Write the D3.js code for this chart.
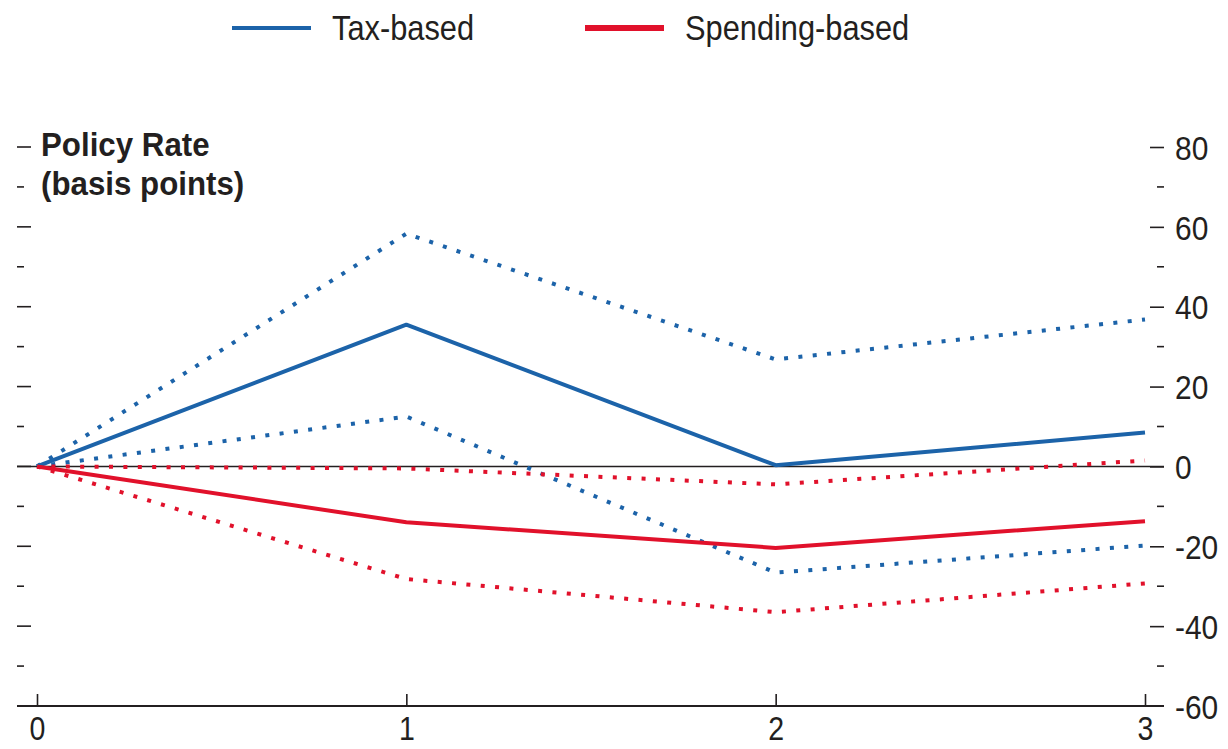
<!DOCTYPE html>
<html>
<head>
<meta charset="utf-8">
<script src="https://cdn.jsdelivr.net/npm/d3@7"></script>
<style>
  html, body { margin: 0; padding: 0; background: #fff; }
  svg { display: block; }
  text { font-family: "Liberation Sans", Arial, sans-serif; fill: #231f20; }
</style>
</head>
<body>
<svg id="chart" width="1228" height="749"></svg>
<script>
// Horizon (years after the consolidation)
const periods = [0, 1, 2, 3];
const xTickLabels = ["0", "1", "2", "3"];

// Policy-rate response, basis points
const taxMean   = [0, 35.5, 0.3, 8.5];
const taxUpper  = [0, 58.3, 26.8, 36.8];
const taxLower  = [0, 12.5, -26.6, -19.8];
const spendMean  = [0, -14.0, -20.4, -13.7];
const spendUpper = [0, -0.5, -4.5, 1.5];
const spendLower = [0, -28.2, -36.5, -29.3];

const yTickValues = [80, 60, 40, 20, 0, -20, -40, -60];
const yMinorValues = [70, 50, 30, 10, -10, -30, -50];

const blue = "#1c63a9";
const red = "#e1112b";
const ink = "#231f20";

// horizontal squeeze that gives the narrow lettering
const SQ = 0.86;

const svg = d3.select("#chart");

const x = d3.scaleLinear().domain([0, 3]).range([37, 1145]);
const y = d3.scaleLinear().domain([-60, 80]).range([706, 147]);

const axisLeftX = 17, axisRightX = 1164;

// Zero line and bottom axis line
svg.append("line")
  .attr("x1", axisLeftX).attr("x2", axisRightX)
  .attr("y1", y(0)).attr("y2", y(0))
  .attr("stroke", ink).attr("stroke-width", 1.6);
svg.append("line")
  .attr("x1", axisLeftX).attr("x2", axisRightX)
  .attr("y1", y(-60)).attr("y2", y(-60))
  .attr("stroke", ink).attr("stroke-width", 1.8);

// Left ticks (no labels)
const leftG = svg.append("g");
leftG.selectAll("line.maj").data(yTickValues.filter(v => v > -60)).join("line")
  .attr("class", "maj")
  .attr("x1", 17).attr("x2", 31)
  .attr("y1", d => y(d)).attr("y2", d => y(d))
  .attr("stroke", ink).attr("stroke-width", 1.6);
leftG.selectAll("line.min").data(yMinorValues).join("line")
  .attr("class", "min")
  .attr("x1", 17).attr("x2", 24)
  .attr("y1", d => y(d)).attr("y2", d => y(d))
  .attr("stroke", ink).attr("stroke-width", 1.6);

// Right axis with labels
const rightAxis = d3.axisRight(y)
  .tickValues(yTickValues)
  .tickSize(0)
  .tickPadding(0)
  .tickFormat(d => String(d));
const rightG = svg.append("g").attr("transform", `translate(${axisRightX},0)`).call(rightAxis);
rightG.select(".domain").remove();
rightG.selectAll(".tick text")
  .attr("x", 0)
  .attr("dy", "0.36em")
  .attr("transform", `translate(11,0) scale(${SQ + 0.02},1)`)
  .style("font-size", "34px")
  .attr("fill", ink);
rightG.selectAll(".tick").filter(d => d > -60).append("line")
  .attr("x1", -14).attr("x2", 0).attr("stroke", ink).attr("stroke-width", 1.6);
rightG.selectAll("line.min").data(yMinorValues).join("line")
  .attr("class", "min")
  .attr("x1", -7).attr("x2", 0)
  .attr("y1", d => y(d)).attr("y2", d => y(d))
  .attr("stroke", ink).attr("stroke-width", 1.6);

// Bottom axis: upward ticks and labels
const bottomAxis = d3.axisBottom(x)
  .tickValues(periods)
  .tickSize(0)
  .tickFormat((d, i) => xTickLabels[i]);
const bottomG = svg.append("g").attr("transform", `translate(0,${y(-60)})`).call(bottomAxis);
bottomG.select(".domain").remove();
bottomG.selectAll(".tick line").remove();
bottomG.selectAll(".tick").append("line")
  .attr("y1", -12).attr("y2", 0).attr("stroke", ink).attr("stroke-width", 1.6);
bottomG.selectAll(".tick text")
  .attr("y", 0)
  .attr("dy", 0)
  .attr("transform", `translate(0,34) scale(${SQ - 0.02},1)`)
  .style("font-size", "34px")
  .attr("fill", ink);

// Series lines
const line = d3.line().x((d, i) => x(periods[i])).y(d => y(d));
const series = [
  { values: taxUpper, color: blue, dotted: true },
  { values: taxLower, color: blue, dotted: true },
  { values: spendUpper, color: red, dotted: true },
  { values: spendLower, color: red, dotted: true },
  { values: taxMean, color: blue, dotted: false },
  { values: spendMean, color: red, dotted: false }
];
svg.append("g").selectAll("path").data(series).join("path")
  .attr("d", d => line(d.values))
  .attr("fill", "none")
  .attr("stroke", d => d.color)
  .attr("stroke-width", 4)
  .attr("stroke-linejoin", "round")
  .attr("stroke-dasharray", d => d.dotted ? "4 10.4" : null);

// Axis title
const title = svg.append("text")
  .attr("transform", `translate(41,0) scale(0.92,1)`)
  .style("font-size", "34px")
  .style("font-weight", "bold");
title.append("tspan").attr("x", 0).attr("y", 156).text("Policy Rate");
title.append("tspan").attr("x", 0).attr("y", 195).text("(basis points)");

// Legend
const legend = [
  { label: "Tax-based", color: blue, x: 232, w: 4 },
  { label: "Spending-based", color: red, x: 585, w: 6 }
];
const lg = svg.append("g").selectAll("g").data(legend).join("g")
  .attr("transform", d => `translate(${d.x},28)`);
lg.append("line")
  .attr("x1", 0).attr("x2", 79).attr("y1", 0).attr("y2", 0)
  .attr("stroke", d => d.color).attr("stroke-width", d => d.w);
lg.append("text")
  .attr("transform", `translate(100,12) scale(0.88,1)`)
  .style("font-size", "35px")
  .text(d => d.label);
</script>
</body>
</html>
